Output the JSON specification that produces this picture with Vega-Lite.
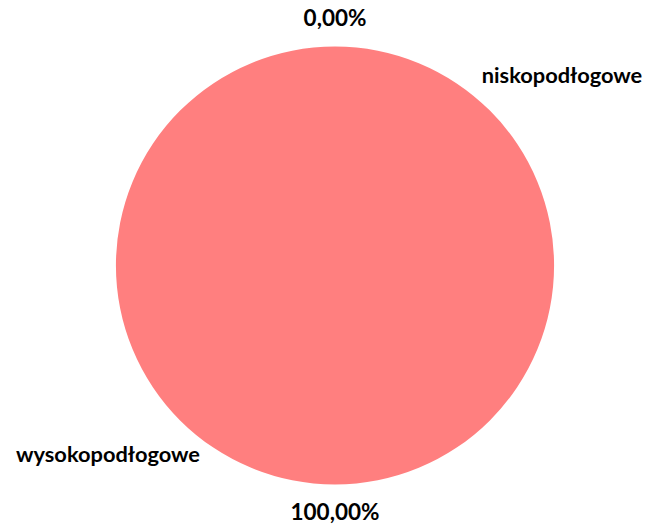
{
  "$schema": "https://vega.github.io/schema/vega-lite/v6.json",
  "autosize": "none",
  "width": 652,
  "height": 529,
  "padding": {"left": 9, "top": 1, "right": 0, "bottom": 0},
  "background": "white",
  "config": {
    "view": {"stroke": null},
    "locale": {"number": {"decimal": ",", "thousands": " ", "grouping": [3], "currency": ["", " zł"]}}
  },
  "data": {
    "values": [
      {"category": "niskopodłogowe", "share": 0},
      {"category": "wysokopodłogowe", "share": 1}
    ]
  },
  "encoding": {
    "theta": {"field": "share", "type": "quantitative", "stack": true},
    "order": {"field": "category", "type": "nominal", "sort": "ascending"}
  },
  "layer": [
    {
      "mark": {"type": "arc", "outerRadius": 219},
      "encoding": {
        "color": {"field": "category", "type": "nominal", "scale": {"range": ["#FF7F7F", "#FF7F7F"]}, "legend": null}
      }
    },
    {
      "mark": {"type": "text", "radius": 247, "font": "Lato", "fontWeight": "bold", "fontSize": 22.5, "color": "black", "align": "center", "baseline": "middle"},
      "encoding": {
        "detail": {"field": "category", "type": "nominal"},
        "text": {"field": "share", "type": "quantitative", "format": ".2%"}
      }
    },
    {
      "mark": {"type": "text", "radius": 296, "thetaOffset": 0.874, "font": "Lato", "fontWeight": "bold", "fontSize": 21.8, "color": "black", "align": "center", "baseline": "middle"},
      "encoding": {
        "detail": {"field": "category", "type": "nominal"},
        "text": {"field": "category", "type": "nominal"}
      }
    }
  ]
}
